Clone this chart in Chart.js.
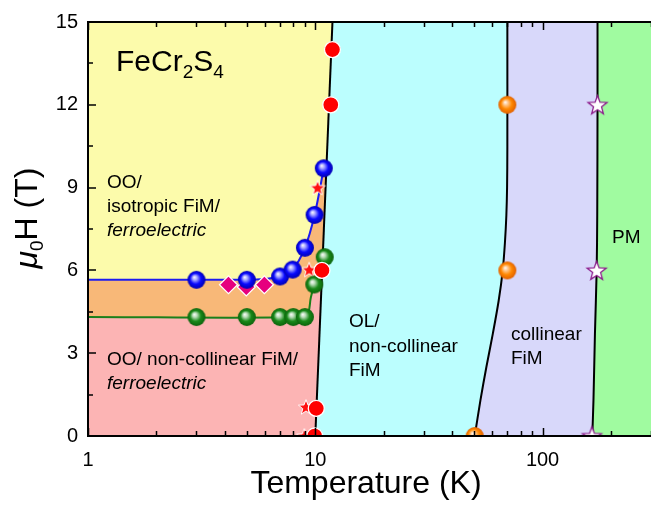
<!DOCTYPE html>
<html><head><meta charset="utf-8">
<script src="https://cdn.jsdelivr.net/npm/chart.js@4.4.1/dist/chart.umd.min.js"></script>
<style>html,body{margin:0;padding:0;background:#fff;overflow:hidden}</style>
</head><body>
<canvas id="c" width="651" height="506" style="display:block;width:651px;height:506px"></canvas>
<script>
// ---------- data ----------
// phase-boundary lines: [T (K), mu0H (T)]
const blueLine   = [[1,5.66],[5,5.66],[6,5.69],[7,5.78],[7.95,6.03],[9,6.82],[9.93,8.01],[10.9,9.7]];
const greenLine  = [[1,4.31],[9.0,4.31],[9.35,4.5],[9.55,5.0],[9.9,5.49]];
const ooLine     = [[10,0],[11.9,15]];
const orangeLine = [[50.3,0],[53.3,1.3],[56.6,2.5],[60.4,3.7],[64.1,4.9],[66.8,6],[68.3,7],[69.3,8],[69.8,9],[70,10.5],[70,15]];
const pmLine     = [[165.5,0],[167.5,1.3],[170,3.7],[173,6],[174,8],[174.5,12],[174.5,15]];

// measured points
const blueT   = [3,5,7,7.95,9,9.93,10.9];
const blueH   = [5.66,5.66,5.78,6.03,6.82,8.01,9.7];
const greenT  = [3,5,7,8,9,9.9,11];
const greenH  = [4.31,4.31,4.31,4.31,4.31,5.49,6.48];
const diamT   = [4.15,4.97,5.97];
const diamH   = [5.48,5.40,5.48];
const redT    = [9.94,10.1,10.7,11.7,11.9];
const redH    = [0,1,6,12,14];
const rstarT  = [8.95,9.1,9.4,10.24];
const rstarH  = [0,1.05,6.03,9.0];
const orangeT = [50.3,70,70];
const orangeH = [0,6,12];
const pstarT  = [165,173,174.5];
const pstarH  = [0,6,12];

// axes
const xTickVals  = [1,2,3,4,5,6,7,8,9,10,20,30,40,50,60,70,80,90,100,200,300];
const xLabelVals = [1,10,100];
const yTickVals  = [0,1.5,3,4.5,6,7.5,9,10.5,12,13.5,15];
const yLabelVals = [0,3,6,9,12,15];

const FONT = '"Liberation Sans", Arial, Helvetica, sans-serif';

// ---------- marker images ----------
function ball(light, base, dark, r){
  const s = Math.ceil(2*r+2), c = document.createElement('canvas'); c.width = s; c.height = s;
  const g = c.getContext('2d'), cx = s/2, cy = s/2;
  const gr = g.createRadialGradient(cx-0.25*r, cy-0.3*r, 0, cx, cy, r);
  gr.addColorStop(0, '#ffffff'); gr.addColorStop(0.25, light); gr.addColorStop(0.6, base); gr.addColorStop(1, dark);
  g.beginPath(); g.arc(cx, cy, r, 0, 2*Math.PI); g.fillStyle = gr; g.fill();
  return c;
}
function star(fill, stroke, R, lw){
  const s = Math.ceil(2*R+2*lw+2), c = document.createElement('canvas'); c.width = s; c.height = s;
  const g = c.getContext('2d'), cx = s/2, cy = s/2 + R*0.08, r = R*0.42;
  g.beginPath();
  for (let i = 0; i < 10; i++){
    const a = -Math.PI/2 + i*Math.PI/5, rr = i%2 ? r : R;
    const px = cx + rr*Math.cos(a), py = cy + rr*Math.sin(a);
    i ? g.lineTo(px, py) : g.moveTo(px, py);
  }
  g.closePath(); g.fillStyle = fill; g.fill();
  g.lineWidth = lw; g.strokeStyle = stroke; g.lineJoin = 'miter'; g.stroke();
  return c;
}
const blueBall   = ball('#a8a8ff', '#0a0aff', '#0000b0', 9);
const greenBall  = ball('#b8dcb8', '#1a8a1a', '#0c620c', 9);
const orangeBall = ball('#ffc890', '#ff8800', '#e06000', 9);
const redStar    = star('#ff1010', '#ffffff', 8, 1);
const purpleStar = star('#ffffff', '#8b1a8b', 10, 1.3);

const pts = (T, H) => T.map((t, i) => ({x: t, y: H[i]}));
const line = a => a.map(p => ({x: p[0], y: p[1]}));

// ---------- plugins ----------
function toPx(chart, arr){ const xs = chart.scales.x, ys = chart.scales.y;
  return arr.map(p => [xs.getPixelForValue(p[0]), ys.getPixelForValue(p[1])]); }
function poly(ctx, p, color){ ctx.beginPath(); p.forEach((q, i) => i ? ctx.lineTo(q[0], q[1]) : ctx.moveTo(q[0], q[1]));
  ctx.closePath(); ctx.fillStyle = color; ctx.fill(); }

const regionsPlugin = {
  id: 'regions',
  beforeDatasetsDraw(chart){
    const ctx = chart.ctx, a = chart.chartArea;
    ctx.save(); ctx.beginPath(); ctx.rect(a.left, a.top, a.right-a.left, a.bottom-a.top); ctx.clip();
    const top = ooLine[ooLine.length-1], bot = ooLine[0];
    poly(ctx, toPx(chart, [[1,0],[1,15],top,bot]), '#fcfbab');
    poly(ctx, toPx(chart, [[1,0], ...blueLine, [20,blueLine[blueLine.length-1][1]], [20,0]]), '#f8b878');
    poly(ctx, toPx(chart, [[1,0], ...greenLine, [20,greenLine[greenLine.length-1][1]], [20,0]]), '#fcb4b4');
    poly(ctx, toPx(chart, [...ooLine, ...orangeLine.slice().reverse()]), '#bbfefe');
    poly(ctx, toPx(chart, [...orangeLine, ...pmLine.slice().reverse()]), '#d8d8fa');
    poly(ctx, toPx(chart, [...pmLine, [300,15],[300,0]]), '#a0fba0');
    ctx.restore();
    // text labels
    ctx.save(); ctx.fillStyle = '#000'; ctx.textBaseline = 'alphabetic'; ctx.textAlign = 'left';
    const n = '19px ' + FONT, it = 'italic 19px ' + FONT;
    const T = (s, x, y, f) => { ctx.font = f; ctx.fillText(s, x, y); };
    T('OO/', 107, 188, n); T('isotropic FiM/', 107, 212, n); T('ferroelectric', 107, 236, it);
    T('OO/ non-collinear FiM/', 107, 365, n); T('ferroelectric', 107, 389, it);
    T('OL/', 349, 327, n); T('non-collinear', 349, 352, n); T('FiM', 349, 376, n);
    T('collinear', 511, 340, n); T('FiM', 511, 364, n);
    T('PM', 612, 243, n);
    // FeCr2S4
    let x = 116; const big = '30px ' + FONT, sm = '19px ' + FONT;
    [['FeCr', big, 71], ['2', sm, 78], ['S', big, 71], ['4', sm, 78]].forEach(([s, f, y]) => {
      ctx.font = f; ctx.fillText(s, x, y); x += ctx.measureText(s).width; });
    ctx.restore();
  }
};

const framePlugin = {
  id: 'frame',
  afterDatasetsDraw(chart){
    const ctx = chart.ctx, a = chart.chartArea, xs = chart.scales.x, ys = chart.scales.y;
    ctx.save(); ctx.strokeStyle = '#000';
    ctx.lineWidth = 1.5;
    xTickVals.forEach(v => { const px = Math.round(xs.getPixelForValue(v)) + 0.5, L = xLabelVals.includes(v) ? 8 : 5;
      ctx.beginPath(); ctx.moveTo(px, a.bottom); ctx.lineTo(px, a.bottom - L); ctx.moveTo(px, a.top); ctx.lineTo(px, a.top + L); ctx.stroke(); });
    yTickVals.forEach(v => { const py = Math.round(ys.getPixelForValue(v)), L = yLabelVals.includes(v) ? 8 : 5;
      ctx.beginPath(); ctx.moveTo(a.left, py); ctx.lineTo(a.left + L, py); ctx.stroke(); });
    ctx.lineWidth = 2;
    ctx.beginPath(); ctx.moveTo(a.right + 2, a.top); ctx.lineTo(a.left, a.top); ctx.lineTo(a.left, a.bottom); ctx.lineTo(a.right + 2, a.bottom); ctx.stroke();
    // x tick labels
    ctx.fillStyle = '#000'; ctx.textBaseline = 'alphabetic'; ctx.textAlign = 'center';
    ctx.font = '20px ' + FONT;
    xLabelVals.forEach(v => ctx.fillText(String(v), xs.getPixelForValue(v), a.bottom + 30));
    // axis titles
    ctx.font = '32px ' + FONT; ctx.textAlign = 'center';
    ctx.fillText('Temperature (K)', 366, 493);
    ctx.translate(37, 218); ctx.rotate(-Math.PI/2); ctx.textAlign = 'left';
    const parts = [['\u03bc', 'italic 32px ' + FONT, 0], ['0', '19px ' + FONT, 6], ['H (T)', '32px ' + FONT, 0]];
    let w = 0; parts.forEach(([s, f]) => { ctx.font = f; w += ctx.measureText(s).width; });
    let x = -w/2; parts.forEach(([s, f, dy]) => { ctx.font = f; ctx.fillText(s, x, dy); x += ctx.measureText(s).width; });
    ctx.restore();
  }
};

// ---------- chart ----------
const lineDs = (data, color, order, tension) => ({type: 'scatter', data: line(data), showLine: true, borderColor: color, borderWidth: 2,
  pointRadius: 0, tension: tension || 0, fill: false, order, clip: 0});
const markDs = (data, style, order, extra) => Object.assign({type: 'scatter', data, pointStyle: style, pointRadius: 9,
  order, clip: 0, pointHoverRadius: 9}, extra || {});

new Chart(document.getElementById('c'), {
  type: 'scatter',
  data: { datasets: [
    lineDs(ooLine, '#000', 50), lineDs(orangeLine, '#000', 50, 0.3), lineDs(pmLine, '#000', 50, 0.3),
    lineDs(blueLine, '#1c1cf0', 40, 0.3), lineDs(greenLine, '#1a801a', 40, 0.3),
    markDs(pts(rstarT, rstarH), redStar, 30),
    markDs(pts(greenT, greenH), greenBall, 20),
    markDs(pts(diamT, diamH), 'rectRot', 19, {pointRadius: 9, backgroundColor: '#e6007e', borderColor: '#ffffff', borderWidth: 1.2}),
    markDs(pts(blueT, blueH), blueBall, 18),
    markDs(pts(redT, redH), 'circle', 10, {pointRadius: 8, backgroundColor: '#ff0000', borderColor: '#ffffff', borderWidth: 1.3}),
    markDs(pts(orangeT, orangeH), orangeBall, 10),
    markDs(pts(pstarT, pstarH), purpleStar, 10)
  ]},
  options: {
    responsive: false, devicePixelRatio: 1, animation: false,
    layout: { autoPadding: false, padding: {left: 0, top: 21, right: 0, bottom: 0} },
    plugins: { legend: {display: false}, tooltip: {enabled: false} },
    events: [],
    scales: {
      x: { type: 'logarithmic', min: 1, max: 300,
        grid: {display: false, drawTicks: false}, border: {display: false},
        afterBuildTicks: s => { s.ticks = xTickVals.map(v => ({value: v})); },
        afterFit: s => { s.height = 70; s.paddingRight = 0; s.paddingLeft = 0; },
        ticks: { display: false, autoSkip: false } },
      y: { type: 'linear', min: 0, max: 15,
        grid: {display: false, drawTicks: false}, border: {display: false},
        afterBuildTicks: s => { s.ticks = yTickVals.map(v => ({value: v})); },
        afterFit: s => { s.width = 88; },
        ticks: { autoSkip: false, padding: 10, color: '#000', font: {family: FONT, size: 20},
          callback: v => yLabelVals.includes(v) ? String(v) : '' } }
    }
  },
  plugins: [regionsPlugin, framePlugin]
});
</script>
</body></html>
